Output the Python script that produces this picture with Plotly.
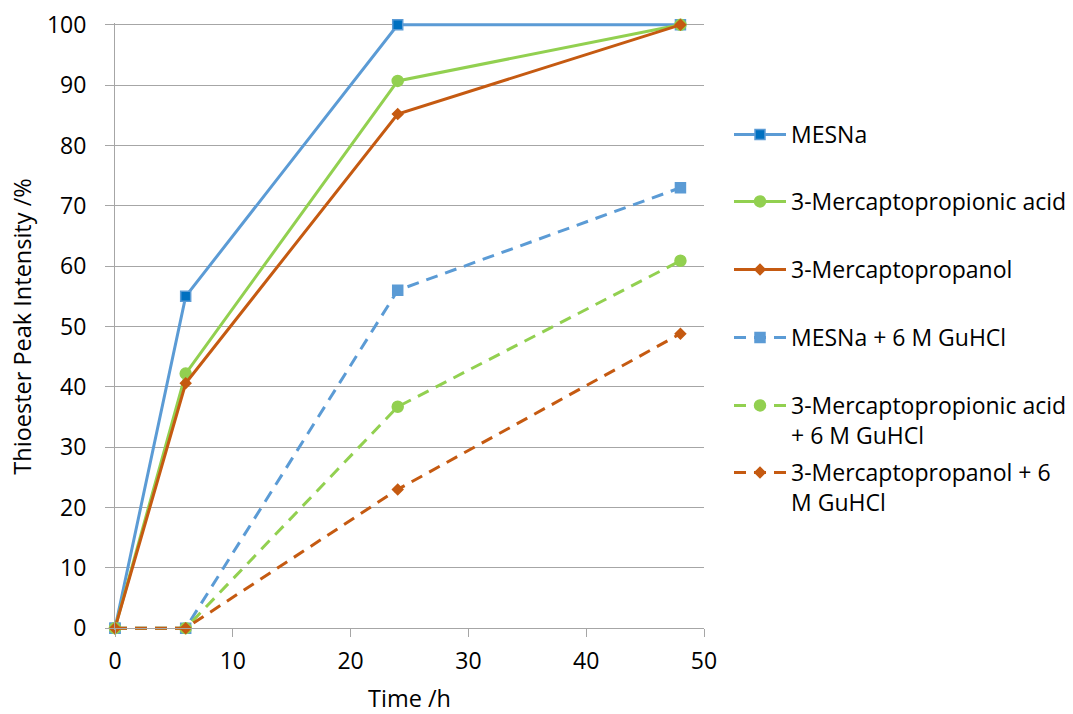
import plotly.graph_objects as go

# Sampling times (h)
time_h = [0, 6, 24, 48]

# Thioester peak intensity (%) per thiol additive
mesna = [0, 55, 100, 100]
mpa = [0, 42.2, 90.7, 100]
mpoh = [0, 40.6, 85.2, 100]
mesna_gu = [0, 0, 56, 73]
mpa_gu = [0, 0, 36.7, 60.9]
mpoh_gu = [0, 0, 23, 48.8]

series_names = [
    "MESNa",
    "3-Mercaptopropionic acid",
    "3-Mercaptopropanol",
    "MESNa + 6 M GuHCl",
    "3-Mercaptopropionic acid<br>+ 6 M GuHCl",
    "3-Mercaptopropanol + 6<br>M GuHCl",
]
series_values = [mesna, mpa, mpoh, mesna_gu, mpa_gu, mpoh_gu]

x_ticks = [0, 10, 20, 30, 40, 50]
y_ticks = [0, 10, 20, 30, 40, 50, 60, 70, 80, 90, 100]

BLUE = "#5B9BD5"
DARK_BLUE = "#0070C0"
GREEN = "#92D050"
ORANGE = "#C55A11"
GRID = "#A6A6A6"
FONT = "Open Sans"
DASH = "12px,8px"

styles = [
    dict(color=BLUE, dash="solid", symbol="square", fill=DARK_BLUE, size=10),
    dict(color=GREEN, dash="solid", symbol="circle", fill=GREEN, size=11),
    dict(color=ORANGE, dash="solid", symbol="diamond", fill=ORANGE, size=8),
    dict(color=BLUE, dash=DASH, symbol="square", fill=BLUE, size=10),
    dict(color=GREEN, dash=DASH, symbol="circle", fill=GREEN, size=11),
    dict(color=ORANGE, dash=DASH, symbol="diamond", fill=ORANGE, size=8),
]

legend_ids = ["legend", "legend2", "legend3", "legend4", "legend5", "legend6"]

# figure / plot-area geometry in pixels
W, H = 1073, 714
L, R, T, B = 115, 704, 23, 630
Y_RANGE = [-0.3, 100.3]          # small headroom so lines at 0 and 100 are not clipped
legend_marker_y = [135, 202, 270, 338, 406, 473]
legend_left_px = 729

fig = go.Figure()
for name, vals, st, lid in zip(series_names, series_values, styles, legend_ids):
    fig.add_trace(go.Scatter(
        x=time_h, y=vals, name=name, mode="lines+markers",
        line=dict(color=st["color"], width=3, dash=st["dash"]),
        marker=dict(symbol=st["symbol"], size=st["size"], color=st["fill"],
                    line=dict(color=st["color"], width=1.5)),
        cliponaxis=False, legend=lid,
    ))

legend_layout = {}
for lid, my in zip(legend_ids, legend_marker_y):
    top_px = my - 22
    legend_layout[lid] = dict(
        x=(legend_left_px - L) / (R - L),
        y=(B - top_px) / (B - T),
        xanchor="left", yanchor="top",
        font=dict(family=FONT, size=23, color="#000000"),
        bgcolor="rgba(0,0,0,0)", borderwidth=0,
        itemwidth=52, valign="top",
    )

fig.update_layout(
    width=W, height=H,
    margin=dict(l=L, r=W - R, t=T, b=H - B, pad=0, autoexpand=False),
    paper_bgcolor="white", plot_bgcolor="white",
    font=dict(family=FONT, size=23, color="#000000"),
    showlegend=True,
    **legend_layout,
)

# x axis drawn at y = 0 inside the padded y range
zero_frac = (0 - Y_RANGE[0]) / (Y_RANGE[1] - Y_RANGE[0])

fig.update_xaxes(
    range=[0, 50], tickvals=x_ticks, ticktext=[str(v) for v in x_ticks],
    anchor="free", position=zero_frac,
    showgrid=False, zeroline=False,
    showline=True, linecolor=GRID, linewidth=1,
    ticks="outside", ticklen=8, tickcolor=GRID, tickwidth=1,
    ticklabelstandoff=4,
    tickfont=dict(family=FONT, size=23, color="#000000"),
    title=dict(text="Time /h", font=dict(family=FONT, size=23.5, color="#000000"), standoff=30),
)
fig.update_yaxes(
    range=Y_RANGE, tickvals=y_ticks, ticktext=[str(v) for v in y_ticks],
    showgrid=True, gridcolor=GRID, gridwidth=1, zeroline=False,
    showline=True, linecolor=GRID, linewidth=1,
    ticks="outside", ticklen=9, tickcolor=GRID, tickwidth=1,
    ticklabelstandoff=14,
    tickfont=dict(family=FONT, size=23, color="#000000"),
    title=dict(text="Thioester Peak Intensity /%", font=dict(family=FONT, size=23.5, color="#000000"), standoff=8),
)

fig.write_html("out.html")
